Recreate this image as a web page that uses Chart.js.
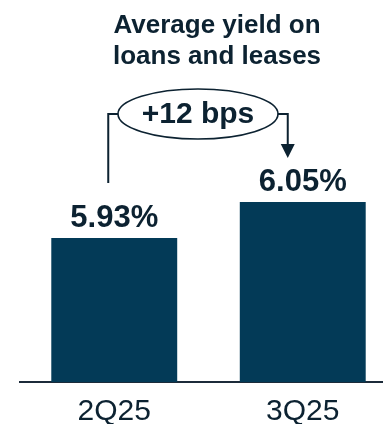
<!DOCTYPE html>
<html>
<head>
<meta charset="utf-8">
<script src="https://cdn.jsdelivr.net/npm/chart.js@4/dist/chart.umd.min.js"></script>
<style>
  html, body { margin: 0; padding: 0; background: #ffffff; overflow: hidden; }
  #wrap { position: relative; width: 397px; height: 424px; }
</style>
</head>
<body>
<div id="wrap"><canvas id="c"></canvas></div>
<script>
const categories = ['2Q25', '3Q25'];
const yields = [5.93, 6.05];
const valueLabels = ['5.93%', '6.05%'];
const changeLabel = '+12 bps';
const titleLines = ['Average yield on', 'loans and leases'];

const BAR = '#033a57';
const INK = '#0c2231';
const FONT = '"Liberation Sans", Arial, sans-serif';

const annotate = {
  id: 'annotate',
  afterDraw(chart) {
    const ctx = chart.ctx;
    const bars = chart.getDatasetMeta(0).data;
    ctx.save();
    // title
    ctx.fillStyle = INK;
    ctx.textAlign = 'center';
    ctx.textBaseline = 'alphabetic';
    ctx.font = 'bold 26px ' + FONT;
    ctx.fillText(titleLines[0], 217, 33);
    ctx.fillText(titleLines[1], 217, 64);
    // value labels
    ctx.font = 'bold 31px ' + FONT;
    bars.forEach((b, i) => {
      ctx.fillText(valueLabels[i], b.x, b.y - 11);
    });
    // bracket
    const b1 = bars[0], b2 = bars[1];
    const lx = b1.x - 6, rx = b2.x - 15;
    const topY = b2.y - 88;
    const leftBottom = b1.y - 55;
    const tipY = b2.y - 44;
    ctx.strokeStyle = INK;
    ctx.lineWidth = 2;
    ctx.beginPath();
    ctx.moveTo(lx, leftBottom);
    ctx.lineTo(lx, topY);
    ctx.lineTo(rx, topY);
    ctx.lineTo(rx, tipY - 14);
    ctx.stroke();
    ctx.fillStyle = INK;
    ctx.beginPath();
    ctx.moveTo(rx - 7, tipY - 14);
    ctx.lineTo(rx + 7, tipY - 14);
    ctx.lineTo(rx, tipY);
    ctx.closePath();
    ctx.fill();
    // ellipse
    const cx = (lx + rx) / 2;
    ctx.beginPath();
    ctx.ellipse(cx, topY, 80, 25, 0, 0, Math.PI * 2);
    ctx.fillStyle = '#ffffff';
    ctx.fill();
    ctx.lineWidth = 1.6;
    ctx.stroke();
    ctx.fillStyle = INK;
    ctx.font = 'bold 30px ' + FONT;
    ctx.textBaseline = 'middle';
    ctx.fillText(changeLabel, cx, topY + 1);
    ctx.restore();
  }
};

new Chart(document.getElementById('c'), {
  type: 'bar',
  data: {
    labels: categories,
    datasets: [{
      data: yields,
      backgroundColor: BAR,
      borderWidth: 0,
      barPercentage: 0.668,
      categoryPercentage: 1.0
    }]
  },
  options: {
    responsive: true,
    maintainAspectRatio: false,
    animation: false,
    layout: { padding: { left: 20, right: 0, top: 82, bottom: 0 } },
    plugins: { legend: { display: false }, title: { display: false }, tooltip: { enabled: false } },
    scales: {
      x: {
        grid: { display: false, drawTicks: false },
        border: { display: true, color: '#1c2b3a', width: 2 },
        ticks: { color: INK, font: { family: FONT, size: 30, lineHeight: 1.2 }, padding: 12 },
        afterFit(scale) { scale.height = 42; }
      },
      y: {
        display: false,
        min: 5.45,
        max: 6.45
      }
    }
  },
  plugins: [annotate]
});
</script>
</body>
</html>
